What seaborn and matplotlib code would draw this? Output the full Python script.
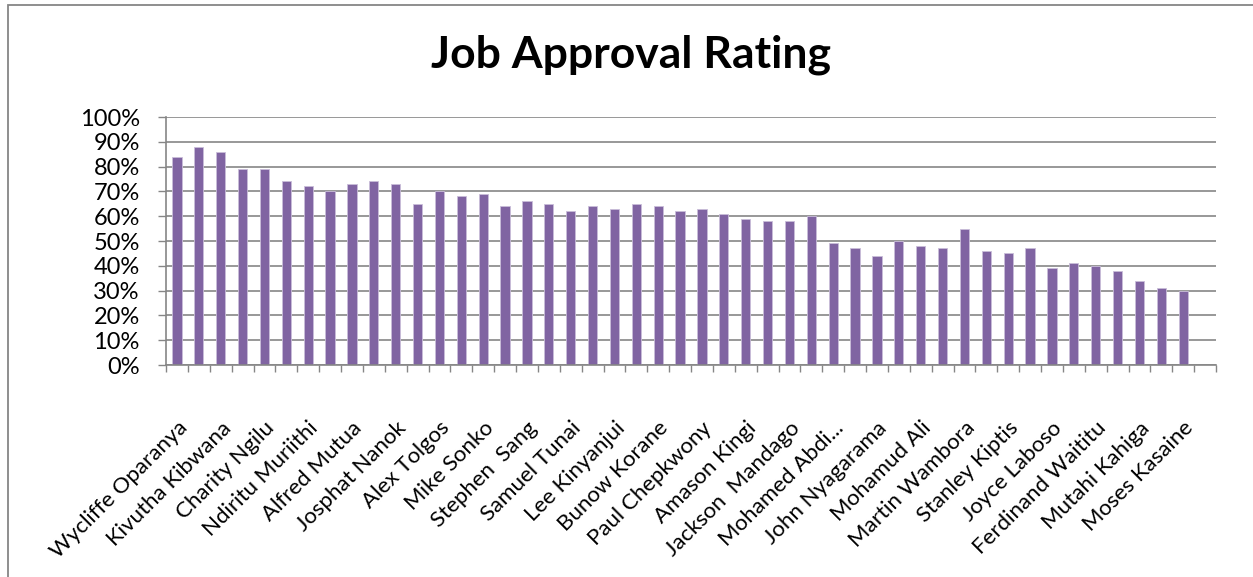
import numpy as np
import pandas as pd
import matplotlib
matplotlib.use("Agg")
import matplotlib.pyplot as plt
import matplotlib.patches as patches
from matplotlib.ticker import FixedLocator
import seaborn as sns

# ---------------------------------------------------------
# data (every other governor is labelled)
# ---------------------------------------------------------
labelled_names = [
    "Wycliffe Oparanya", "Kivutha Kibwana", "Charity Ngilu", "Ndiritu Muriithi",
    "Alfred Mutua", "Josphat Nanok", "Alex Tolgos", "Mike Sonko",
    "Stephen  Sang", "Samuel Tunai", "Lee Kinyanjui", "Bunow Korane",
    "Paul Chepkwony", "Amason Kingi", "Jackson  Mandago", "Mohamed Abdi...",
    "John Nyagarama", "Mohamud Ali", "Martin Wambora", "Stanley Kiptis",
    "Joyce Laboso", "Ferdinand Waititu", "Mutahi Kahiga", "Moses Kasaine",
]

approval = [
    84, 88, 86, 79, 79, 74, 72, 70, 73, 74, 73, 65, 70, 68, 69, 64,
    66, 65, 62, 64, 63, 65, 64, 62, 63, 61, 59, 58, 58, 60, 49, 47,
    44, 50, 48, 47, 55, 46, 45, 47, 39, 41, 40, 38, 34, 31, 30,
]

n_slots = 48  # the chart keeps one empty category at the right end

df = pd.DataFrame({"pos": np.arange(len(approval)), "rating": approval})

# ---------------------------------------------------------
# figure
# ---------------------------------------------------------
sns.set_theme(style="white")
plt.rcParams["font.family"] = ["Lato", "DejaVu Sans"]

W, H = 1253, 577
fig = plt.figure(figsize=(W / 100, H / 100), dpi=100)
ax = fig.add_axes([166 / W, 1 - 365 / H, (1216 - 166) / W, (365 - 117) / H])

grey = "#868686"

sns.barplot(data=df, x="pos", y="rating", ax=ax, color="#8064A2",
            width=0.42, saturation=1, edgecolor="#C9BDD9", linewidth=0.6)

ax.set_xlim(-0.5, n_slots - 0.5)
ax.set_ylim(0, 100)
ax.set_yticks(range(0, 101, 10))
ax.set_yticklabels([f"{v}%" for v in range(0, 101, 10)], fontsize=17, color="black")
ax.yaxis.grid(True, color=grey, linewidth=1.2)
ax.set_axisbelow(True)

ax.set_xticks(range(0, len(approval), 2))
ax.set_xticklabels(labelled_names, rotation=45, ha="right", rotation_mode="anchor",
                   fontsize=16, color="black")
ax.xaxis.set_minor_locator(FixedLocator(np.arange(-0.5, n_slots, 1)))
ax.tick_params(axis="x", which="major", length=0, pad=38)
ax.tick_params(axis="x", which="minor", length=5, width=1, color=grey, direction="out", bottom=True)
ax.tick_params(axis="y", length=5.8, width=1, color=grey, direction="out", left=True, pad=13)

ax.set_xlabel("")
ax.set_ylabel("")
for side in ["top", "right"]:
    ax.spines[side].set_visible(False)
for side in ["left", "bottom"]:
    ax.spines[side].set_color(grey)
    ax.spines[side].set_linewidth(1.2)

fig.text(631 / W, 1 - 55 / H, "Job Approval Rating", ha="center", va="center",
         fontsize=32, fontweight="bold", color="black")

# chart area border (only left and top edges fall inside the picture)
fig.patches.append(patches.Rectangle((8 / W, -0.1), 1.2, 1.1 - 5 / H,
                                     transform=fig.transFigure, fill=False,
                                     edgecolor=grey, linewidth=1.3))

fig.savefig("out.png", dpi=100)
